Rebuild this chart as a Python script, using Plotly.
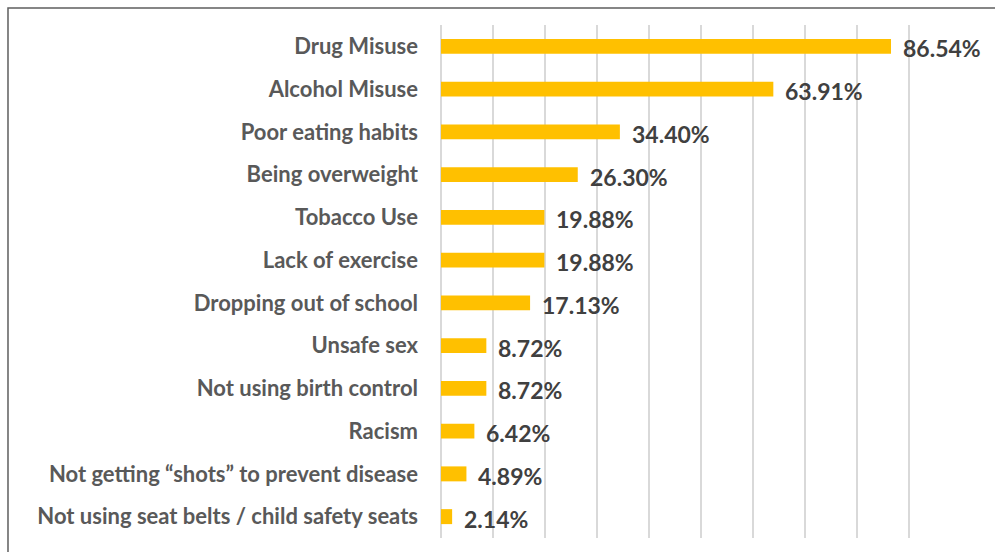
import plotly.graph_objects as go

categories = [
    "Drug Misuse",
    "Alcohol Misuse",
    "Poor eating habits",
    "Being overweight",
    "Tobacco Use",
    "Lack of exercise",
    "Dropping out of school",
    "Unsafe sex",
    "Not using birth control",
    "Racism",
    "Not getting \u201cshots\u201d to prevent disease",
    "Not using seat belts / child safety seats",
]
values = [86.54, 63.91, 34.40, 26.30, 19.88, 19.88, 17.13, 8.72, 8.72, 6.42, 4.89, 2.14]

FONT = "Lato"

fig = go.Figure()
fig.add_trace(go.Bar(
    x=values, y=categories, orientation="h",
    marker=dict(color="#FFC000", line=dict(width=0)),
    width=0.35,
    hoverinfo="x+y",
))

for c, v in zip(categories, values):
    fig.add_annotation(
        x=v, y=c, xref="x", yref="y", text=f"<b>{v:.2f}%</b>",
        showarrow=False, xanchor="left", yanchor="middle", xshift=10, yshift=-2,
        font=dict(family=FONT, size=23, color="#404040"),
    )

# chart border (right/bottom edges fall outside the image)
fig.add_shape(type="rect", xref="paper", yref="paper",
              x0=-0.8327, x1=1.08, y0=-0.05, y1=1.033,
              line=dict(color="#5F5F5F", width=1.5), layer="below")

fig.update_layout(
    width=995, height=552,
    margin=dict(l=441, r=34, t=25, b=14),
    paper_bgcolor="white", plot_bgcolor="white",
    showlegend=False,
    xaxis=dict(range=[0, 100], dtick=10, showgrid=True, gridcolor="#D9D9D9", gridwidth=1.5,
               zeroline=True, zerolinecolor="#D9D9D9", zerolinewidth=1.5,
               showticklabels=False, showline=False, fixedrange=True),
    yaxis=dict(autorange="reversed", showgrid=False, showline=False, ticks="",
               ticklabelstandoff=22, automargin=False, fixedrange=True,
               tickfont=dict(family=FONT, size=22, color="#595959", weight="bold")),
)

fig.write_html("out.html", config={"displayModeBar": False},
               post_script="document.body.style.margin='0';")
